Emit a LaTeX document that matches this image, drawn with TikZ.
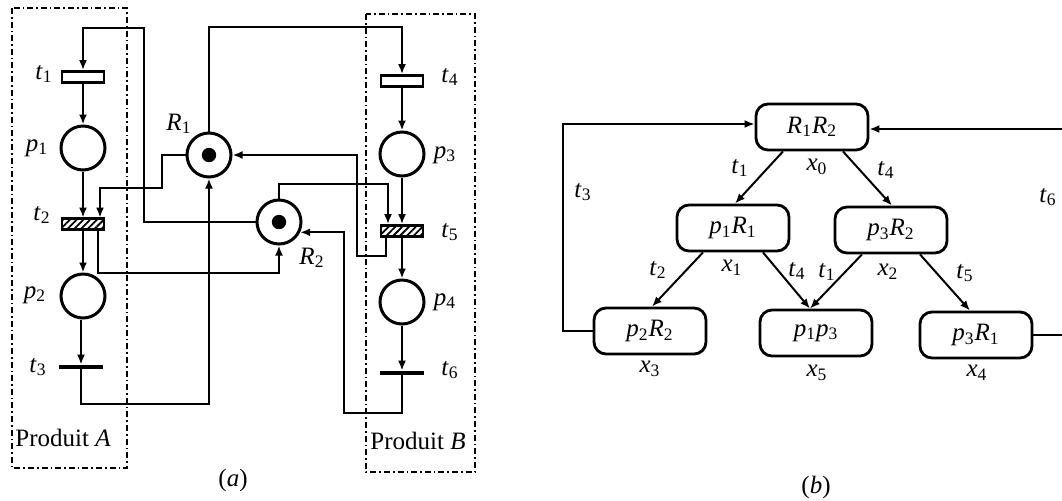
\documentclass[tikz,border=0pt]{standalone}
\usepackage{fontspec}
\setmainfont{Liberation Serif}
\usetikzlibrary{arrows.meta,patterns.meta,calc}
\newcommand\ixs[2]{\textit{#1}\textsubscript{#2}}
\begin{document}
\begin{tikzpicture}[x=0.5pt,y=-0.5pt,
  font=\fontsize{12.5}{15}\selectfont,
  arr/.style={-{Latex[length=5pt,width=4pt]}, line width=1pt},
  place/.style={circle,draw,line width=1.5pt,minimum size=22pt,inner sep=0pt},
  trans/.style={rectangle,draw,line width=1.4pt,minimum width=21pt,minimum height=5.5pt,inner sep=0pt},
  htrans/.style={trans,pattern={Lines[angle=45,distance=2.4pt,line width=0.9pt]}},
  bar/.style={rectangle,fill=black,minimum width=22pt,minimum height=2pt,inner sep=0pt},
  state/.style={rectangle,rounded corners=6pt,draw,line width=1.4pt,minimum width=56pt,minimum height=23pt,inner sep=0pt},
  prod/.style={line width=0.9pt,dash pattern=on 3pt off 1.5pt on 0.8pt off 1.5pt},
  lbl/.style={inner sep=0pt}]
\useasboundingbox (0,0) rectangle (1062,500);

% ---------- (a) ----------
\draw[prod] (12,8) rectangle (127,468);
\draw[prod] (366,14) rectangle (475,472);

\node[trans]  (t1) at (83,77) {};
\node[place]  (p1) at (83,148) {};
\node[htrans] (t2) at (83,224) {};
\node[place]  (p2) at (83,296) {};
\node[bar]    (t3) at (81,367) {};

\node[trans]  (t4) at (402,81) {};
\node[place]  (p3) at (402,154) {};
\node[htrans] (t5) at (402,231) {};
\node[place]  (p4) at (402,302) {};
\node[bar]    (t6) at (402,373) {};

\node[place] (R1) at (209,155) {};
\fill (R1.center) circle (3.6pt);
\node[place] (R2) at (279,222) {};
\fill (R2.center) circle (3.6pt);

\draw[arr] (t1) -- (p1);
\draw[arr] (p1) -- (t2);
\draw[arr] (t2) -- (p2);
\draw[arr] (p2.south -| t3) -- (t3.north);
\draw[arr] (t4) -- (p3);
\draw[arr] (p3) -- (t5);
\draw[arr] (t5) -- (p4);
\draw[arr] (p4) -- (t6);

\draw[arr] (R2.west) -| (144,28) -| (t1.north);
\draw[arr] (R1.north) |- ($(t4.north)+(0,-47)$) -- (t4.north);
\draw[arr] (R1.west) -| (162,188) -| ($(t2.north)+(17,0)$);
\draw[arr] ($(t2.south)+(15,0)$) |- ($(R2.south)+(0,27)$) -- (R2.south);
\draw[arr] (t3.south) |- ($(R1.south)+(0,225)$) -- (R1.south);
\draw[arr] (R2.north) |- ($(t5.north)+(-14,-40)$) -- ($(t5.north)+(-14,0)$);
\coordinate (k5) at (357,256);
\draw[arr] ($(t5.south)+(-16,0)$) |- (k5) |- (R1.east);
\coordinate (k6) at (344,413);
\draw[arr] (t6.south) |- (k6) |- (R2.-26);

\node[lbl] (lt1) at (44,74) {\ixs{t}{1}};
\node[lbl] (lp1) at (37,148) {\ixs{p}{1}};
\node[lbl] (lt2) at (42,215) {\ixs{t}{2}};
\node[lbl] (lp2) at (35,295) {\ixs{p}{2}};
\node[lbl] (lt3) at (38,367) {\ixs{t}{3}};
\node[lbl] (lR1) at (179,124) {\ixs{R}{1}};
\node[lbl] (lR2) at (312,258) {\ixs{R}{2}};
\node[lbl] (lt4) at (450,77) {\ixs{t}{4}};
\node[lbl] (lp3) at (445,155) {\ixs{p}{3}};
\node[lbl] (lt5) at (450,232) {\ixs{t}{5}};
\node[lbl] (lp4) at (445,302) {\ixs{p}{4}};
\node[lbl] (lt6) at (450,370) {\ixs{t}{6}};
\node[lbl,anchor=west] (pA) at (15,438) {Produit \textit{A}};
\node[lbl,anchor=west] (pB) at (370,441) {Produit \textit{B}};
\node[lbl] (ca) at (233,480) {(\textit{a})};

% ---------- (b) ----------
\node[state] (x0) at (812,127) {\ixs{R}{1}\ixs{R}{2}};
\node[state] (x1) at (733,228) {\ixs{p}{1}\ixs{R}{1}};
\node[state] (x2) at (891,230) {\ixs{p}{3}\ixs{R}{2}};
\node[state] (x3) at (650,331) {\ixs{p}{2}\ixs{R}{2}};
\node[state] (x5) at (816,333) {\ixs{p}{1}\ixs{p}{3}};
\node[state] (x4) at (976,335) {\ixs{p}{3}\ixs{R}{1}};

\draw[arr] ($(x0.south)+(-29,0)$) -- ($(x1.north)+(2,0)$);
\draw[arr] ($(x0.south)+(31,0)$) -- ($(x2.north)+(1,0)$);
\draw[arr] ($(x1.south)+(-30,0)$) -- ($(x3.north)+(2,0)$);
\draw[arr] ($(x1.south)+(30,0)$) -- ($(x5.north)+(-6,0)$);
\draw[arr] ($(x2.south)+(-29,0)$) -- ($(x5.north)+(-6,0)$);
\draw[arr] ($(x2.south)+(29,0)$) -- ($(x4.north)+(-6,0)$);
\coordinate (l3) at (563,124);
\draw[arr] (x3.west) -| (l3) -- (x0.west |- l3);
\coordinate (l6) at (1068,129);
\draw[arr] (x4.east) -| (l6) -- (x0.east |- l6);

\node[lbl] (bt1) at (740,168) {\ixs{t}{1}};
\node[lbl] (bx0) at (817,167) {\ixs{x}{0}};
\node[lbl] (bt4) at (886,170) {\ixs{t}{4}};
\node[lbl] (bt2) at (658,270) {\ixs{t}{2}};
\node[lbl] (bx1) at (732,268) {\ixs{x}{1}};
\node[lbl] (bt4b) at (797,271) {\ixs{t}{4}};
\node[lbl] (bt1b) at (827,272) {\ixs{t}{1}};
\node[lbl] (bx2) at (888,272) {\ixs{x}{2}};
\node[lbl] (bt5) at (965,273) {\ixs{t}{5}};
\node[lbl] (bx3) at (650,369) {\ixs{x}{3}};
\node[lbl] (bx5) at (817,373) {\ixs{x}{5}};
\node[lbl] (bx4) at (977,373) {\ixs{x}{4}};
\node[lbl] (bt3) at (583,192) {\ixs{t}{3}};
\node[lbl] (bt6) at (1048,197) {\ixs{t}{6}};
\node[lbl] (cb) at (816,487) {(\textit{b})};
\end{tikzpicture}
\end{document}
